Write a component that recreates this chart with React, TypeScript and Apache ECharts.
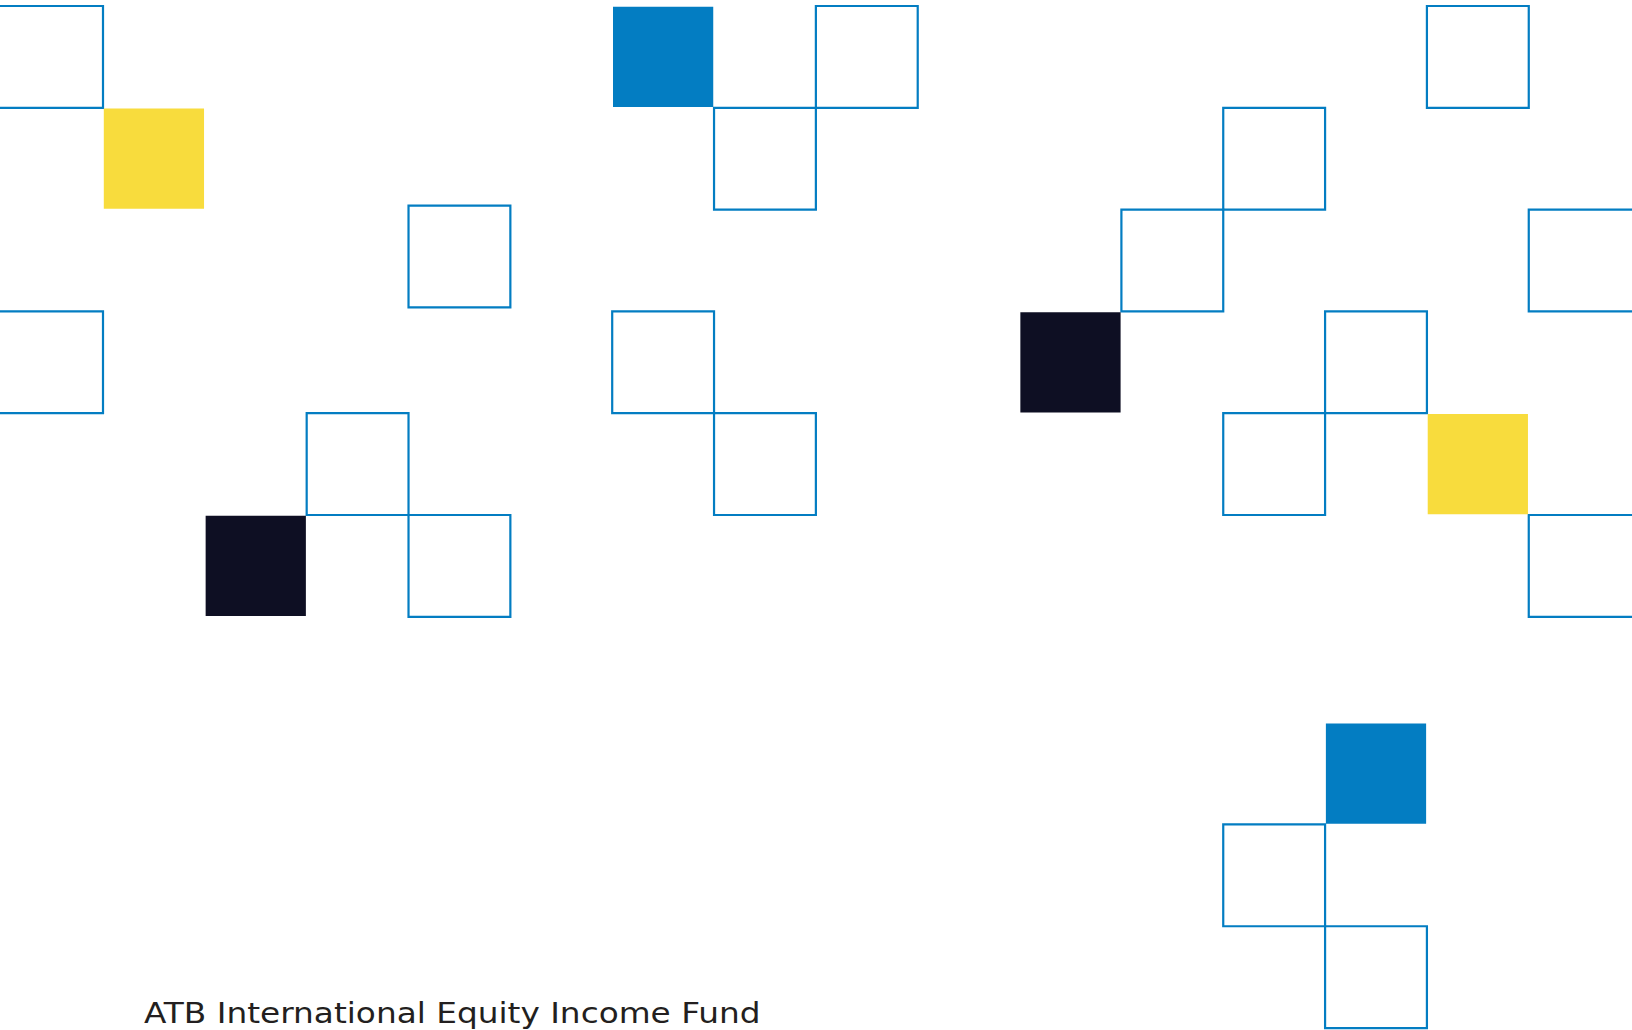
import React, { useEffect, useRef } from "react";
import * as echarts from "echarts";

// Grid cells [column, row] of the pattern
const outlineCells: number[][] = [
  [0, 0], [0, 3], [4, 1.96], [3, 4], [4, 5],
  [8, 0], [7, 1], [6, 3], [7, 4],
  [11, 2], [12, 1], [14, 0], [15, 2], [13, 3], [12, 4], [15, 5],
  [12, 8.04], [13, 9.04],
];
const blueCells: number[][] = [[6, 0], [13, 7.04]];
const yellowCells: number[][] = [[1, 1], [14, 4]];
const darkCells: number[][] = [[2, 5], [10, 3]];

const fundTitle = "ATB International Equity Income Fund";

const W = 1632;
const H = 1030;
const BLUE = "#037DC2";
const YELLOW = "#F8DC3D";
const DARK = "#0E0F23";

export default function App() {
  const ref = useRef<HTMLDivElement>(null);
  useEffect(() => {
    if (!ref.current) return;
    const chart = echarts.init(ref.current, null, { renderer: "svg" });

    const makeRender = (kind: string) => (params: any, api: any) => {
      const x = api.value(0);
      const y = api.value(1);
      const p0 = api.coord([x, y]);
      const p1 = api.coord([x + 1, y + 1]);
      let left = p0[0];
      let right = p1[0];
      const top = p0[1];
      const bottom = p1[1];
      if (kind === "outline") {
        // squares touching the frame edge bleed off it
        if (left < 4) left = -20;
        if (right > W - 4) right = W + 20;
        return {
          type: "rect",
          shape: { x: left, y: top, width: right - left, height: bottom - top },
          style: { fill: "none", stroke: BLUE, lineWidth: 2.2 },
        };
      }
      const color = kind === "blue" ? BLUE : kind === "yellow" ? YELLOW : DARK;
      const inset = 0.8;
      return {
        type: "rect",
        shape: {
          x: left + inset,
          y: top + inset,
          width: right - left - 2 * inset,
          height: bottom - top - 2 * inset,
        },
        style: { fill: color },
      };
    };

    const series = [
      { kind: "outline", data: outlineCells },
      { kind: "blue", data: blueCells },
      { kind: "yellow", data: yellowCells },
      { kind: "dark", data: darkCells },
    ].map((s) => ({
      type: "custom",
      name: s.kind,
      renderItem: makeRender(s.kind),
      data: s.data,
      silent: true,
      clip: false,
    }));

    const cellW = 101.84;
    const cellH = 101.8;
    const x0 = 1.16;
    const y0 = 6;

    chart.setOption({
      animation: false,
      backgroundColor: "#ffffff",
      grid: { left: 0, right: 0, top: 0, bottom: 0 },
      xAxis: {
        type: "value",
        min: -x0 / cellW,
        max: (W - x0) / cellW,
        show: false,
        splitLine: { show: false },
      },
      yAxis: {
        type: "value",
        inverse: true,
        min: -y0 / cellH,
        max: (H - y0) / cellH,
        show: false,
        splitLine: { show: false },
      },
      series: series as any,
      graphic: [
        {
          type: "text",
          x: 144,
          y: 1013,
          z: 10,
          scaleX: 1.17,
          style: {
            text: fundTitle,
            fontFamily: "DejaVu Sans",
            fontSize: 28,
            fill: "#231F20",
            verticalAlign: "middle",
            align: "left",
          },
        },
      ],
    });
    return () => chart.dispose();
  }, []);
  return (
    <div
      ref={ref}
      style={{ position: "fixed", left: 0, top: 0, width: W, height: H, background: "#fff" }}
    />
  );
}
